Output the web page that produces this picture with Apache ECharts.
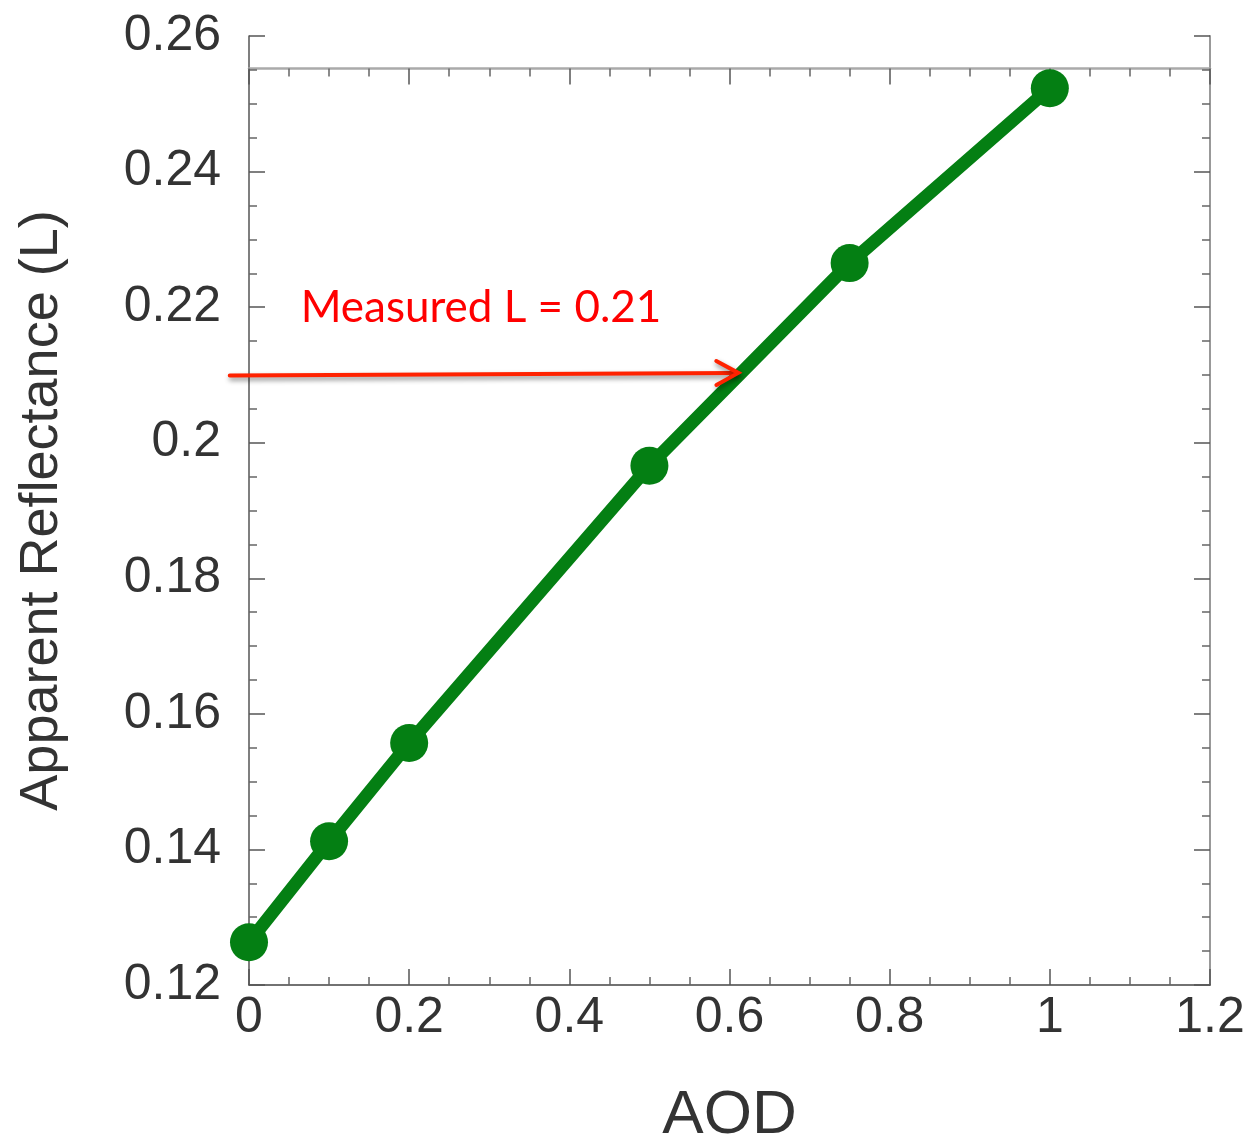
<!DOCTYPE html>
<html>
<head>
<meta charset="utf-8">
<script src="https://cdn.jsdelivr.net/npm/echarts@6/dist/echarts.min.js"></script>
<style>html,body{margin:0;padding:0;background:#fff}#c{width:1252px;height:1144px}</style>
</head>
<body>
<div id="c"></div>
<script>
// ---- data ----
const aod = [0, 0.1, 0.2, 0.5, 0.75, 1.0];
const reflectance = [0.1263, 0.1412, 0.1557, 0.1966, 0.2265, 0.2523];
const xTicks = [0, 0.2, 0.4, 0.6, 0.8, 1, 1.2];
const yTicks = [0.12, 0.14, 0.16, 0.18, 0.2, 0.22, 0.24, 0.26];
const topLineValue = 0.2552;
const arrowStart = [-0.024, 0.2099];
const arrowEnd = [0.611, 0.2103];
const annotationText = 'Measured L = 0.21';
const annotationAt = [0.0645, 0.2199];

const chart = echarts.init(document.getElementById('c'), null, {renderer: 'canvas'});
const font = 'Liberation Sans, Arial, sans-serif';
const gridL = 249, gridR = 42, gridT = 36, gridB = 159;

function tickAxisCommon(lineColor, lineWidth) {
  return {
    axisLine: {show: true, onZero: false, lineStyle: {color: lineColor, width: lineWidth}},
    axisTick: {show: true, inside: true, length: 16, lineStyle: {color: '#555', width: 1.5}},
    minorTick: {show: true, splitNumber: 4, length: 8, lineStyle: {color: '#666', width: 1.5}},
    splitLine: {show: false},
    minorSplitLine: {show: false}
  };
}

const option = {
  animation: false,
  backgroundColor: '#ffffff',
  grid: [
    {left: gridL, right: gridR, top: gridT, bottom: gridB, containLabel: false, outerBoundsMode: 'none'},
    {left: gridL, right: gridR, top: gridT, bottom: gridB, show: false, containLabel: false, outerBoundsMode: 'none'}
  ],
  xAxis: [
    Object.assign({
      type: 'value', gridIndex: 0, position: 'bottom',
      min: xTicks[0], max: xTicks[xTicks.length - 1], interval: 0.2,
      name: 'AOD', nameLocation: 'middle', nameGap: 100,
      nameTextStyle: {fontFamily: font, fontSize: 62, color: '#333'},
      axisLabel: {fontFamily: font, fontSize: 50, color: '#333', margin: 8}
    }, tickAxisCommon('#444', 1.5)),
    Object.assign({
      type: 'value', gridIndex: 1, position: 'top',
      min: xTicks[0], max: xTicks[xTicks.length - 1], interval: 0.2,
      axisLabel: {show: false}
    }, tickAxisCommon('#aaa', 2.5), {axisLine: {show: true, onZero: true, lineStyle: {color: '#aaa', width: 2.5}}})
  ],
  yAxis: [
    Object.assign({
      type: 'value', gridIndex: 0, position: 'left',
      min: yTicks[0], max: yTicks[yTicks.length - 1], interval: 0.02,
      name: 'Apparent Reflectance (L)', nameLocation: 'middle', nameGap: 180,
      nameTextStyle: {fontFamily: font, fontSize: 54, color: '#333'},
      axisLabel: {fontFamily: font, fontSize: 50, color: '#333', margin: 28, padding: [0, 0, 20, 0]}
    }, tickAxisCommon('#555', 1.5)),
    Object.assign({
      type: 'value', gridIndex: 0, position: 'right',
      min: yTicks[0], max: yTicks[yTicks.length - 1], interval: 0.02,
      axisLabel: {show: false}
    }, tickAxisCommon('#999', 2)),
    {
      type: 'value', gridIndex: 1, show: true,
      min: yTicks[0], max: yTicks[yTicks.length - 1],
      axisLine: {show: false}, axisTick: {show: false}, axisLabel: {show: false}, splitLine: {show: false}
    }
  ],
  series: [
    {
      type: 'line', xAxisIndex: 0, yAxisIndex: 0,
      data: aod.map((x, i) => [x, reflectance[i]]),
      symbol: 'circle', symbolSize: 38, clip: false,
      lineStyle: {color: '#047f13', width: 13},
      itemStyle: {color: '#047f13'},
      z: 5
    },
    {
      type: 'line', xAxisIndex: 1, yAxisIndex: 2, data: [], silent: true
    },
    {
      type: 'custom', xAxisIndex: 0, yAxisIndex: 0, clip: false, z: 10,
      data: [[arrowStart[0], arrowStart[1], arrowEnd[0], arrowEnd[1], annotationAt[0], annotationAt[1]]],
      renderItem: function (params, api) {
        const p0 = api.coord([api.value(0), api.value(1)]);
        const p1 = api.coord([api.value(2), api.value(3)]);
        const pt = api.coord([api.value(4), api.value(5)]);
        const ang = Math.atan2(p1[1] - p0[1], p1[0] - p0[0]);
        const L = 25, a = 0.5;
        const h1 = [p1[0] - L * Math.cos(ang - a), p1[1] - L * Math.sin(ang - a)];
        const h2 = [p1[0] - L * Math.cos(ang + a), p1[1] - L * Math.sin(ang + a)];
        const st = {stroke: '#ff2200', lineWidth: 4, fill: null, shadowBlur: 5, shadowColor: 'rgba(0,0,0,0.45)', shadowOffsetX: 1, shadowOffsetY: 3, lineCap: 'round', lineJoin: 'miter'};
        return {
          type: 'group',
          children: [
            {type: 'line', shape: {x1: p0[0], y1: p0[1], x2: p1[0] - 2, y2: p1[1]}, style: st},
            {type: 'polyline', shape: {points: [h1, p1, h2]}, style: st},
            {type: 'text', x: pt[0], y: pt[1], style: {text: annotationText, fill: '#ff0000', font: '44px Lato, "Open Sans", sans-serif', textAlign: 'left', textVerticalAlign: 'middle'}}
          ]
        };
      }
    }
  ]
};
chart.setOption(option);
const yTop = chart.convertToPixel({yAxisIndex: 0}, topLineValue);
chart.setOption({grid: [{}, {top: yTop}]});
</script>
</body>
</html>
